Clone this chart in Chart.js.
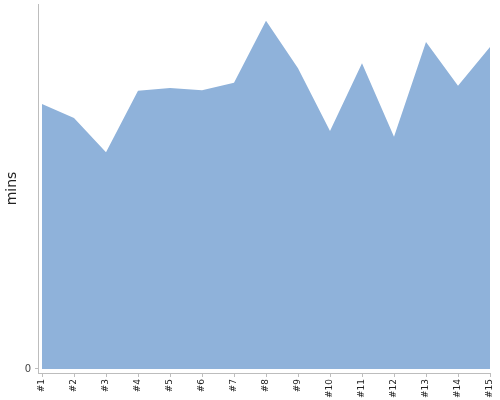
<!DOCTYPE html>
<html>
<head>
<meta charset="utf-8">
<script src="https://cdn.jsdelivr.net/npm/chart.js@4/dist/chart.umd.min.js"></script>
<style>
  html, body { margin: 0; padding: 0; background: #fff; }
  #wrap { width: 500px; height: 400px; }
</style>
</head>
<body>
<div id="wrap"><canvas id="c" width="500" height="400"></canvas></div>
<script>
const categories = ['#1','#2','#3','#4','#5','#6','#7','#8','#9','#10','#11','#12','#13','#14','#15'];
const minsValues = [36.3, 34.4, 29.7, 38.1, 38.5, 38.2, 39.2, 47.7, 41.2, 32.6, 41.9, 31.8, 44.8, 38.8, 44.1];
const yTickValues = [0];
const yAxisTitle = 'mins';

const AXIS = '#bdbdbd';
const FILL = '#8fb2da';

new Chart(document.getElementById('c'), {
  type: 'line',
  data: {
    datasets: [{
      data: minsValues.map((v, i) => ({ x: i, y: v })),
      fill: 'origin',
      backgroundColor: FILL,
      borderColor: FILL,
      borderWidth: 0,
      pointRadius: 0,
      tension: 0
    }]
  },
  options: {
    responsive: false,
    animation: false,
    layout: { padding: { top: 4, right: 10, left: 0, bottom: 0 } },
    plugins: { legend: { display: false }, tooltip: { enabled: false } },
    scales: {
      x: {
        type: 'linear',
        min: -0.125,
        max: 14,
        afterBuildTicks: s => { s.ticks = categories.map((_, i) => ({ value: i })); },
        afterFit: s => { s.height = 27; s.paddingLeft = 0; s.paddingRight = 0; },
        border: { display: true, color: AXIS, width: 1 },
        grid: { display: true, drawOnChartArea: false, drawTicks: true, tickLength: 4, color: AXIS },
        ticks: {
          autoSkip: false,
          minRotation: 90,
          maxRotation: 90,
          padding: 2,
          color: '#222',
          font: { family: 'DejaVu Sans', size: 9 },
          callback: v => categories[v]
        }
      },
      y: {
        min: -0.55,
        max: 50,
        afterBuildTicks: s => { s.ticks = yTickValues.map(v => ({ value: v })); },
        afterFit: s => { s.width = 38; s.paddingTop = 0; s.paddingBottom = 0; },
        border: { display: true, color: AXIS, width: 1 },
        grid: { display: true, drawOnChartArea: false, drawTicks: true, tickLength: 3, color: AXIS },
        ticks: {
          padding: 4,
          color: '#444',
          font: { family: 'DejaVu Sans', size: 10 }
        },
        title: {
          display: true,
          text: yAxisTitle,
          color: '#222',
          padding: { top: 4, bottom: 0 },
          font: { family: 'DejaVu Sans', size: 14 }
        }
      }
    }
  }
});
</script>
</body>
</html>
